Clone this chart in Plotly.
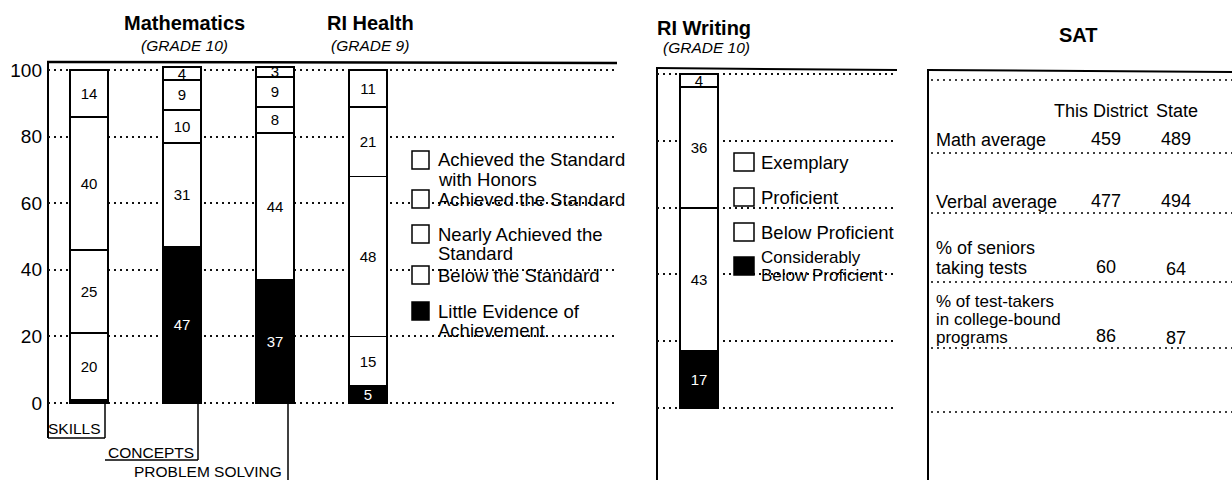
import plotly.graph_objects as go

W, H = 1232, 480

# ---------------- data ----------------
math_cats = ["SKILLS", "CONCEPTS", "PROBLEM SOLVING", "RI Health"]
little = [1, 47, 37, 5]
below = [20, 31, 44, 15]
nearly = [25, 10, 8, 48]
achieved = [40, 9, 9, 21]
honors = [14, 4, 3, 11]
math_levels = ["Little Evidence of\nAchievement", "Below the Standard",
               "Nearly Achieved the\nStandard", "Achieved the Standard",
               "Achieved the Standard\nwith Honors"]

writing_cats = ["RI Writing"]
w_considerably = [17]
w_below = [43]
w_proficient = [36]
w_exemplary = [4]
writing_levels = ["Considerably\nBelow Proficient", "Below Proficient",
                  "Proficient", "Exemplary"]

y_ticks = [0, 20, 40, 60, 80, 100]

sat_header = ["This District", "State"]
sat_rows = ["Math average", "Verbal average", "% of seniors\ntaking tests",
            "% of test-takers\nin college-bound\nprograms"]
sat_district = [459, 477, 60, 86]
sat_state = [489, 494, 64, 87]

# ---------------- helpers ----------------
FONT = "Liberation Sans, Arial, Helvetica, sans-serif"
DOTS = "2px,4px"


def px(x):
    return x / W


def py(y):
    return 1 - y / H


fig = go.Figure()


def add_stack(cats, series, xa, ya):
    for i, vals in enumerate(series):
        dark = (i == 0)
        fig.add_trace(go.Bar(
            x=cats, y=vals, xaxis=xa, yaxis=ya, width=0.41,
            marker=dict(color="black" if dark else "white",
                        line=dict(color="black", width=1.8)),
            text=[str(v) if v >= 3 else "" for v in vals],
            textposition="inside", insidetextanchor="middle", textangle=0,
            textfont=dict(family=FONT, size=15,
                          color="white" if dark else "black"),
            showlegend=False, hoverinfo="skip", cliponaxis=False))


add_stack(math_cats, [little, below, nearly, achieved, honors], "x", "y")
add_stack(writing_cats, [w_considerably, w_below, w_proficient, w_exemplary], "x2", "y2")

grid = dict(showgrid=True, gridcolor="#111", gridwidth=1.6, griddash=DOTS,
            zeroline=False, showline=False, tickvals=y_ticks, range=[-3, 103],
            fixedrange=True)

fig.update_layout(
    width=W, height=H, margin=dict(l=0, r=0, t=0, b=0), autosize=False,
    paper_bgcolor="white", plot_bgcolor="white", barmode="stack",
    uniformtext=dict(minsize=15, mode="show"),
    font=dict(family=FONT, color="black"),
    xaxis=dict(domain=[px(48), px(617)], range=[-0.441, 5.677], type="category",
               showticklabels=False, showgrid=False, zeroline=False, showline=False,
               anchor="y", fixedrange=True),
    yaxis=dict(domain=[py(413), py(60)], anchor="x", ticks="",
               tickfont=dict(family=FONT, size=19), ticklabelstandoff=5, **grid),
    xaxis2=dict(domain=[px(657), px(897)], range=[-0.452, 2.129], type="category",
                showticklabels=False, showgrid=False, zeroline=False, showline=False,
                anchor="y2", fixedrange=True),
    yaxis2=dict(domain=[py(418.0), py(64.0)], anchor="x2", showticklabels=False, **grid),
)

shapes = []


def line(x0, y0, x1, y1, w=2, dash=None):
    ln = dict(color="black", width=w)
    if dash:
        ln["dash"] = dash
    shapes.append(dict(type="line", xref="paper", yref="paper",
                       x0=px(x0), y0=py(y0), x1=px(x1), y1=py(y1), line=ln,
                       layer="below"))


def box(x0, y0, x1, y1, filled):
    shapes.append(dict(type="rect", xref="paper", yref="paper",
                       x0=px(x0), y0=py(y0), x1=px(x1), y1=py(y1),
                       fillcolor="black" if filled else "white",
                       line=dict(color="black", width=1.5), layer="above"))


# frames
line(48, 62, 48, 438)
line(47, 62, 617, 63, 2.5)
line(657, 68, 657, 480)
line(656, 68, 897, 70, 2)
line(928, 70, 928, 480)
line(927, 70, 1232, 72, 2)
# SAT table row separators
for ry in [80, 153, 213, 282, 348, 412]:
    line(931, ry, 1232, ry, 1.6, DOTS)
# category brackets
line(48, 438, 105, 438, 1.5)
line(105, 403, 105, 438, 1.5)
line(105, 460, 198, 460, 1.5)
line(198, 403, 198, 460, 1.5)
line(288, 403, 288, 480, 1.5)

annotations = []


def text(x, y, s, size=18, anchor="left", ya="middle"):
    annotations.append(dict(x=px(x), y=py(y), xref="paper", yref="paper",
                            text=s, showarrow=False, xanchor=anchor, yanchor=ya,
                            font=dict(family=FONT, size=size, color="black")))


# titles
text(184, 23, "<b>Mathematics</b>", 20, "center")
text(184, 45, "<i>(GRADE 10)</i>", 15.5, "center")
text(370, 23, "<b>RI Health</b>", 20, "center")
text(370, 45, "<i>(GRADE 9)</i>", 15.5, "center")
text(655, 28, "<b>RI Writing</b>", 20, "left")
text(661, 48, "<i>(GRADE 10)</i>", 15.5, "left")
text(1078, 35, "<b>SAT</b>", 20, "center")

# category labels under math bars
cat_pos = [(46, 428), (106, 452), (132, 471)]
for name, (cx, cy) in zip(math_cats[:3], cat_pos):
    text(cx, cy, name, 15.5, "left")

# legend for Mathematics / Health
leg1_y = [160, 199, 234, 275, 311]
for lab, ly in zip(reversed(math_levels), leg1_y):
    filled = lab == math_levels[0]
    box(412, ly - 9, 429, ly + 9, filled)
    for k, part in enumerate(lab.split("\n")):
        text(436, ly + k * 19, part, 18.5)

# legend for Writing
leg2_y = [162, 197, 232, 266]
for lab, ly in zip(reversed(writing_levels), leg2_y):
    filled = lab == writing_levels[0]
    box(734, ly - 9, 754, ly + 9, filled)
    parts = lab.split("\n")
    for k, part in enumerate(parts):
        text(759, ly - 9 * (len(parts) - 1) + k * 18, part,
             17 if len(parts) > 1 else 18.5)

# SAT table
text(1101, 111, sat_header[0], 18, "center")
text(1177, 111, sat_header[1], 18, "center")
row_y = [140, 202, 268, 337]
for lab, d, s, ry in zip(sat_rows, sat_district, sat_state, row_y):
    parts = lab.split("\n")
    sp = 20 if len(parts) == 2 else 18
    fs = 17 if len(parts) == 3 else 18
    for k, part in enumerate(parts):
        text(934, ry - (len(parts) - 1 - k) * sp, part, fs)
    text(1106, ry - 1, str(d), 18, "center")
    text(1176, ry + (1 if len(parts) > 1 else -1), str(s), 18, "center")

fig.update_layout(shapes=shapes, annotations=annotations)
fig.write_html("out.html", config={"displayModeBar": False},
               post_script="document.body.style.margin='0';")
